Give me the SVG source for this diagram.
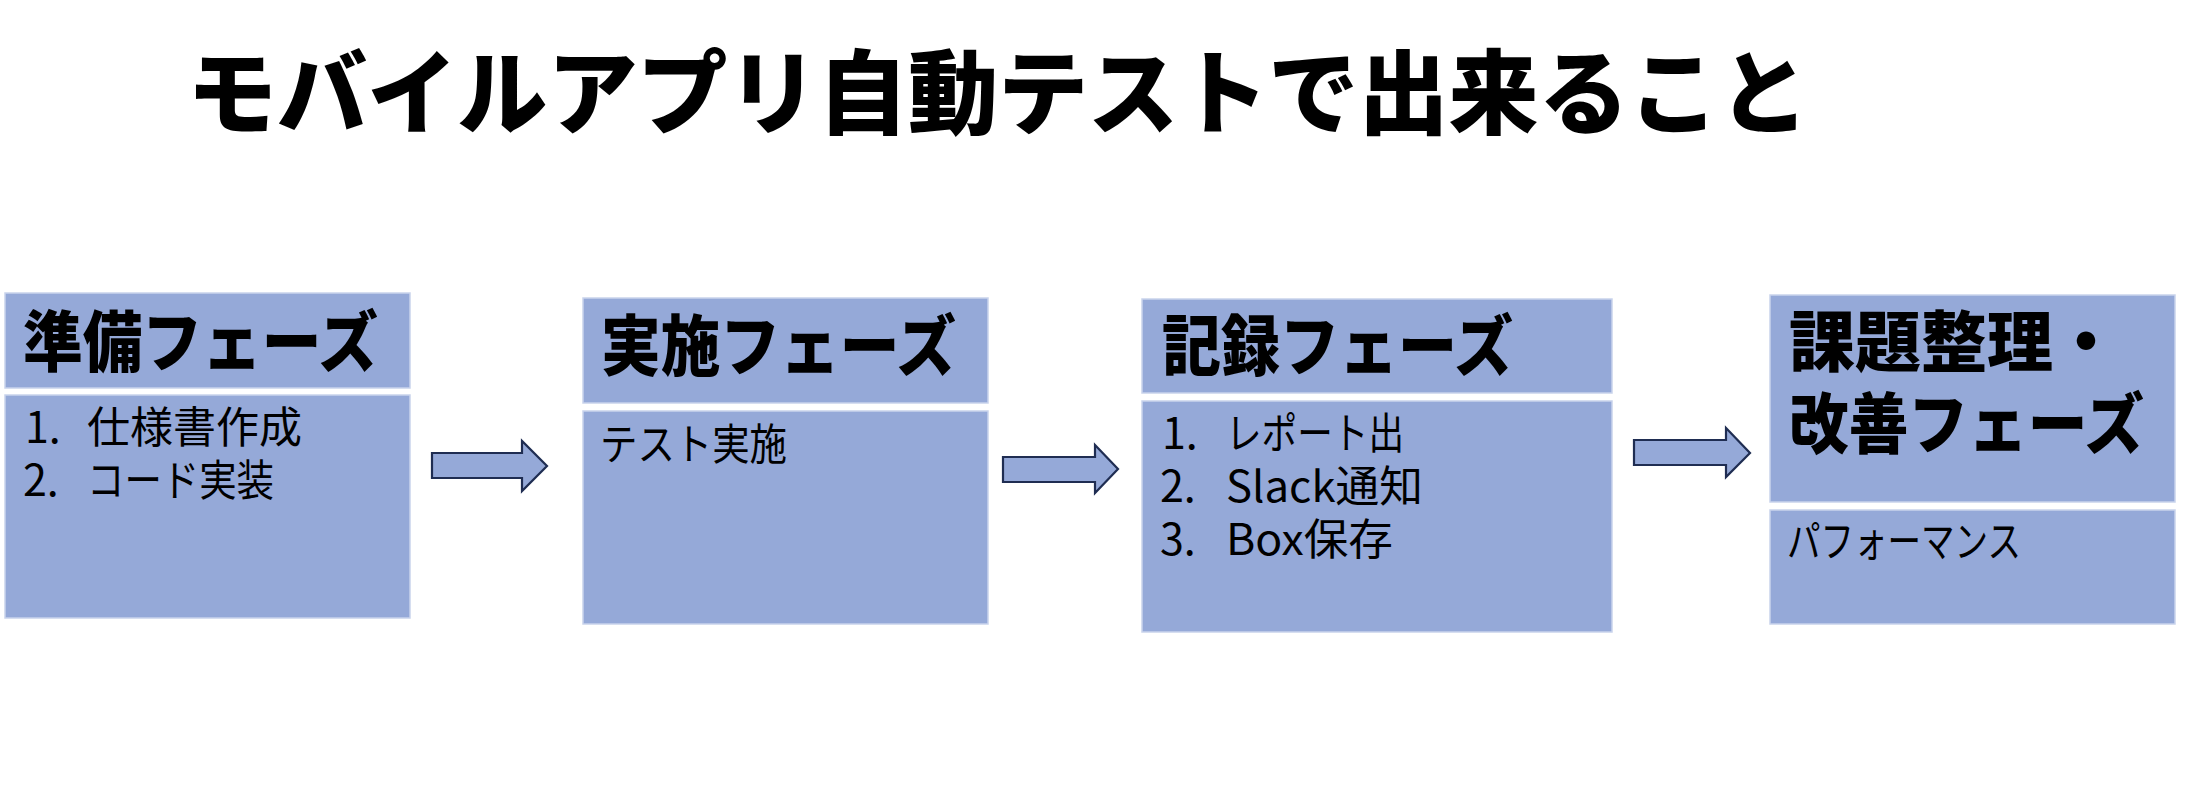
<svg xmlns="http://www.w3.org/2000/svg" width="2204" height="796" viewBox="0 0 2204 796">
<style>
.box{fill:#95A9D8;stroke:#C9D3EC;stroke-width:1.5}
.arrow{fill:#95A9D8;stroke:#1F2D52;stroke-width:2.2;stroke-linejoin:miter}
.title{font-family:"Noto Sans CJK JP","Noto Sans",sans-serif;font-weight:900;font-size:92px;fill:#000}
.head{font-family:"Noto Sans CJK JP","Noto Sans",sans-serif;font-weight:900;font-size:66px;fill:#000}
.body{font-family:"Noto Sans CJK JP","Noto Sans",sans-serif;font-size:43px;fill:#000}
</style>
<rect width="2204" height="796" fill="#fff"/>
<text class="title" x="187" y="127" textLength="1622" lengthAdjust="spacingAndGlyphs">モバイルアプリ自動テストで出来ること</text>

<g id="phase-prep">
<rect class="box" x="5" y="293" width="405" height="95"/>
<rect class="box" x="5" y="395" width="405" height="223"/>
<text class="head" x="23" y="366" textLength="355" lengthAdjust="spacingAndGlyphs">準備フェーズ</text>
<text class="body"><tspan x="25" y="443">1.</tspan><tspan x="87" y="443">仕様書作成</tspan><tspan x="23" y="496">2.</tspan><tspan x="87" y="496" textLength="187" lengthAdjust="spacingAndGlyphs">コード実装</tspan></text>
</g>

<g id="phase-exec">
<rect class="box" x="583" y="298" width="405" height="105"/>
<rect class="box" x="583" y="411" width="405" height="213"/>
<text class="head" x="601" y="370" textLength="355" lengthAdjust="spacingAndGlyphs">実施フェーズ</text>
<text class="body" x="600" y="460" textLength="187" lengthAdjust="spacingAndGlyphs">テスト実施</text>
</g>

<g id="phase-record">
<rect class="box" x="1142" y="299" width="470" height="94"/>
<rect class="box" x="1142" y="401" width="470" height="231"/>
<text class="head" x="1162" y="370" textLength="351" lengthAdjust="spacingAndGlyphs">記録フェーズ</text>
<text class="body"><tspan x="1162" y="449">1.</tspan><tspan x="1226" y="449" textLength="178" lengthAdjust="spacingAndGlyphs">レポート出</tspan><tspan x="1160" y="502">2.</tspan><tspan x="1226" y="502" textLength="197" lengthAdjust="spacingAndGlyphs">Slack通知</tspan><tspan x="1160" y="555">3.</tspan><tspan x="1226" y="555" textLength="167" lengthAdjust="spacingAndGlyphs">Box保存</tspan></text>
</g>

<g id="phase-improve">
<rect class="box" x="1770" y="295" width="405" height="207"/>
<rect class="box" x="1770" y="510" width="405" height="114"/>
<text class="head"><tspan x="1789" y="366">課題整理・</tspan><tspan x="1789" y="448" textLength="355" lengthAdjust="spacingAndGlyphs">改善フェーズ</tspan></text>
<text class="body" x="1787" y="557" textLength="234" lengthAdjust="spacingAndGlyphs">パフォーマンス</text>
</g>

<g id="connectors">
<path class="arrow" d="M432,453 H522 V441 L547,466 L522,491 V478 H432 Z"/>
<path class="arrow" d="M1003,457 H1095 V445 L1118,469 L1095,493 V482 H1003 Z"/>
<path class="arrow" d="M1634,440 H1726 V428 L1750,453 L1726,477 V465 H1634 Z"/>
</g>
</svg>
